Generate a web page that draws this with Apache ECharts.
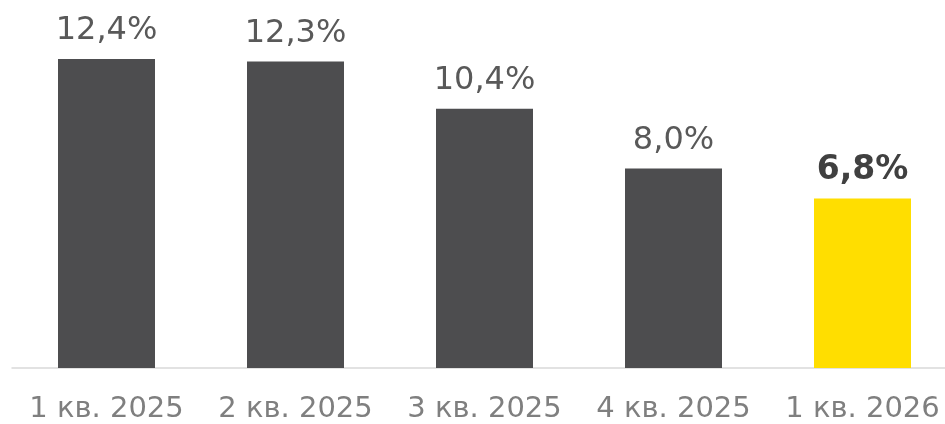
<!DOCTYPE html>
<html><head><meta charset="utf-8">
<script src="https://cdn.jsdelivr.net/npm/echarts@6/dist/echarts.min.js"></script>
<style>html,body{margin:0;padding:0;background:#fff;overflow:hidden;width:945px;height:424px}#c{width:960px;height:424px}</style>
</head><body><div id="c"></div>
<script>
const categories = ['1 кв. 2025','2 кв. 2025','3 кв. 2025','4 кв. 2025','1 кв. 2026'];
const values = [12.4, 12.3, 10.4, 8.0, 6.8];
const highlightIndex = 4;

const chart = echarts.init(document.getElementById('c'));
chart.setOption({
  animation: false,
  grid: {left: 12, right: 3, top: 19, bottom: 54, containLabel: false},
  xAxis: {
    type: 'category', data: categories,
    axisLine: {lineStyle: {color: '#d9d9d9', width: 1.5}},
    axisTick: {show: false},
    axisLabel: {color: '#7f7f7f', fontFamily: 'DejaVu Sans', fontSize: 29, margin: 27, interval: 0}
  },
  yAxis: {type: 'value', min: 0, max: 14, show: false, splitLine: {show: false}},
  series: [{
    type: 'bar', barWidth: 97,
    data: values.map((v, i) => ({
      value: v,
      itemStyle: {color: i === highlightIndex ? '#ffde00' : '#4d4d4f'},
      label: i === highlightIndex ? {fontWeight: 'bold', fontSize: 33, color: '#404040'} : {}
    })),
    label: {
      show: true, position: 'top', distance: 12,
      fontFamily: 'DejaVu Sans', fontSize: 32, color: '#595959',
      formatter: p => p.value.toFixed(1).replace('.', ',') + '%'
    }
  }]
});
</script></body></html>
